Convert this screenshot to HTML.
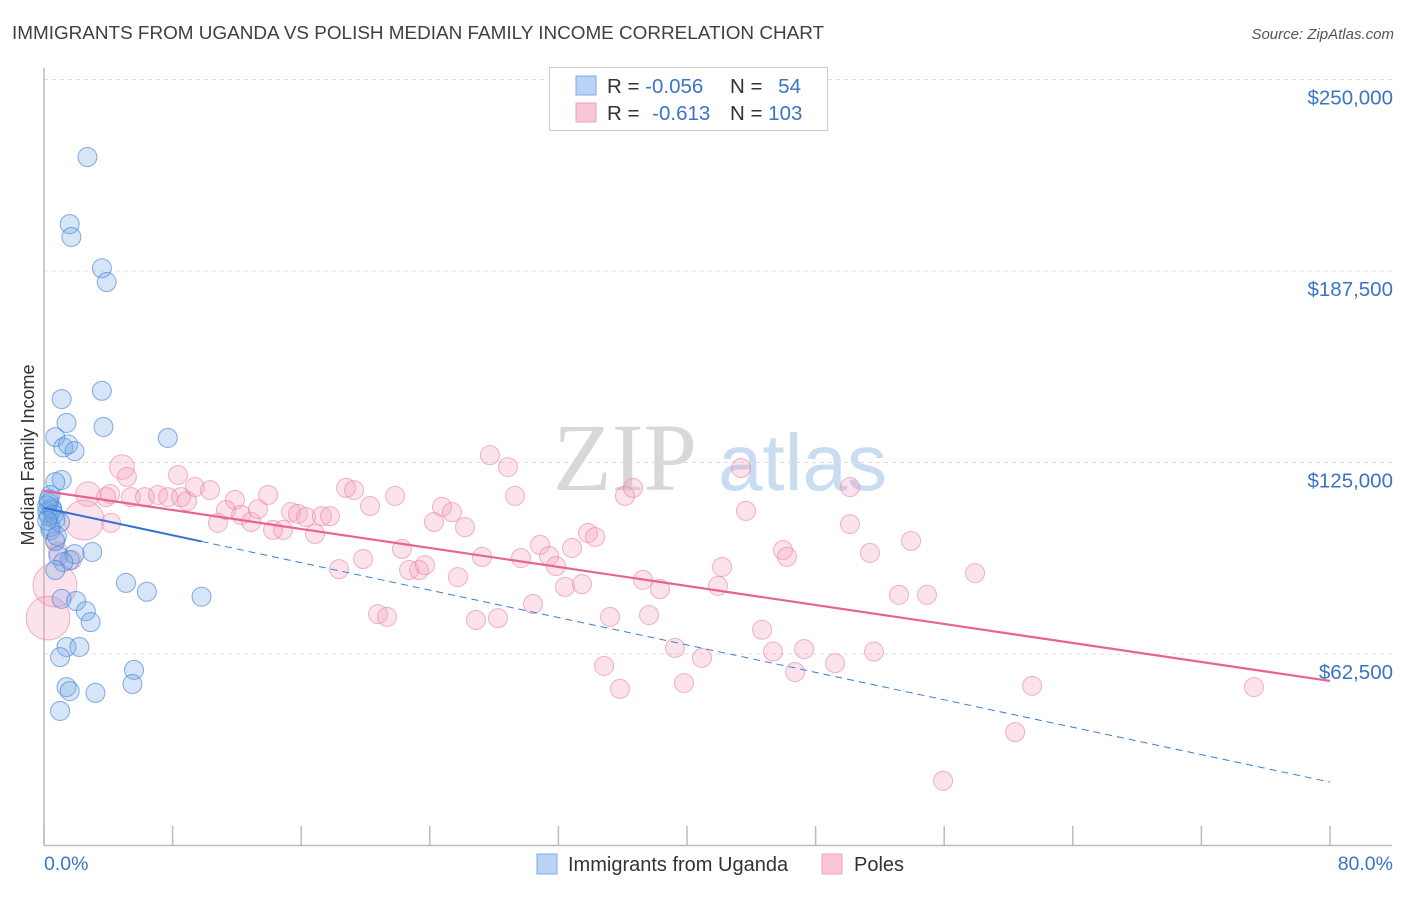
<!DOCTYPE html>
<html><head><meta charset="utf-8"><style>
body{margin:0;background:#fff;width:1406px;height:892px;overflow:hidden;font-family:"Liberation Sans",sans-serif;}
</style></head><body>
<svg id="chart" width="1406" height="892" xmlns="http://www.w3.org/2000/svg" font-family="Liberation Sans, sans-serif">
<text x="12" y="39" font-size="18.9" fill="#404040">IMMIGRANTS FROM UGANDA VS POLISH MEDIAN FAMILY INCOME CORRELATION CHART</text>
<text x="1394" y="39" font-size="15" fill="#555" font-style="italic" text-anchor="end">Source: ZipAtlas.com</text>
<g>
<text x="553" y="490" font-size="96" fill="#d8d8d8" font-family="Liberation Serif, serif">ZIP</text>
<text x="718" y="490" font-size="80" fill="#c8dcf2">atlas</text>
</g>
<g id="grid"></g>
<g id="axes"></g>
<g id="marks"></g>
<text transform="translate(34,455) rotate(-90)" font-size="18" fill="#333" text-anchor="middle">Median Family Income</text>
<text x="44" y="870" font-size="19.5" fill="#3a75c4">0.0%</text>
<text x="1393" y="870" font-size="19.5" fill="#3a75c4" text-anchor="end">80.0%</text>
<g>
<rect x="549.5" y="67.5" width="278" height="63" fill="#fff" stroke="#ccc"/>
<rect x="576" y="76" width="20" height="19" fill="#b8d3f5" stroke="#7ea8e0"/>
<rect x="576" y="103" width="20" height="19" fill="#f9c6d6" stroke="#eea2ba"/>
<text x="607" y="93" font-size="20.5" fill="#333">R = <tspan fill="#3a75c4">-0.056</tspan></text>
<text x="730" y="93" font-size="20.5" fill="#333">N = <tspan fill="#3a75c4" dx="10">54</tspan></text>
<text x="607" y="120" font-size="20.5" fill="#333">R = <tspan fill="#3a75c4" dx="7">-0.613</tspan></text>
<text x="730" y="120" font-size="20.5" fill="#333">N = <tspan fill="#3a75c4">103</tspan></text>
</g>
<g>
<rect x="537" y="854" width="20" height="20" fill="#b8d3f5" stroke="#7ea8e0"/>
<text x="568" y="871" font-size="20" fill="#333">Immigrants from Uganda</text>
<rect x="822" y="854" width="20" height="20" fill="#f9c6d6" stroke="#eea2ba"/>
<text x="854" y="871" font-size="20" fill="#333">Poles</text>
</g>
</svg>
<script>
const yTicks=[62.5,125,187.5,250];
const yTickLabels=["$62,500","$125,000","$187,500","$250,000"];
const xTicks=[0,8,16,24,32,40,48,56,64,72,80];
const ugandaX=[2.7,1.6,1.7,3.6,3.9,3.6,1.1,3.7,1.4,0.7,7.7,1.2,1.5,1.9,1.1,0.7,0.4,0.3,0.5,0.2,0.7,1.0,0.4,0.7,0.9,1.6,3.0,1.9,1.2,0.7,5.1,6.4,9.8,1.1,2.0,2.6,2.9,1.4,2.2,1.0,5.6,5.5,1.4,1.6,3.2,1.0,0.3,0.5,0.2,0.4,0.6,0.3,0.8,0.2];
const ugandaY=[224.7,202.8,198.6,188.4,183.9,148.4,145.7,136.6,137.9,133.3,133,129.9,130.9,128.7,119.3,118.6,114.4,111.8,110.2,108.9,106.3,105.5,102.9,99.3,94.5,93.1,95.8,95.1,92.5,89.9,85.7,82.8,81.2,80.5,79.8,76.5,72.9,64.8,64.8,61.5,57.3,52.7,51.7,50.4,49.8,43.9,107.5,109.5,111,104,108,113,101,106];
const polesX=[4.85,5.16,4.11,2.74,3.86,5.41,6.28,7.09,7.72,8.52,8.90,8.34,9.39,10.33,11.88,10.82,11.32,12.26,12.88,13.31,13.94,14.25,14.87,15.37,15.80,16.30,16.86,17.29,17.79,18.35,18.79,19.29,19.85,20.28,20.78,21.34,21.84,22.27,22.71,23.33,23.70,24.26,24.76,25.38,25.75,26.19,26.87,27.25,27.74,28.24,28.86,29.30,29.67,30.42,30.86,31.42,31.85,32.41,32.85,33.47,33.84,34.28,35.21,34.84,35.83,36.14,36.64,37.26,37.64,38.32,39.25,39.81,40.93,41.93,42.18,43.36,43.67,44.67,45.35,45.97,46.22,46.72,47.28,49.21,50.14,50.14,51.38,51.63,53.19,53.94,54.93,57.92,60.41,61.47,75.27,55.93,0.68,0.25,2.49,4.17,1.74,0.87,0.68];
const polesY=[123.5,120.3,114.7,114.7,113.7,113.7,113.7,114.4,113.7,113.7,112.4,120.9,117.0,116.0,112.8,105.3,109.5,107.9,105.6,109.8,114.4,103.0,103.0,108.8,108.2,107.2,101.7,107.5,107.5,90.2,116.7,116.0,93.5,110.8,75.5,74.6,114.1,96.8,89.9,89.9,91.5,105.6,110.5,108.8,87.6,103.9,73.6,94.2,127.4,74.2,123.5,114.1,93.8,78.8,98.1,94.5,91.2,84.4,97.1,85.3,102.0,100.7,74.6,58.6,51.1,114.1,116.7,86.7,75.2,83.7,64.5,53.0,61.2,84.7,90.9,123.2,109.2,70.4,63.3,96.4,94.2,56.6,64.1,59.5,117.0,104.9,95.5,63.3,81.8,99.4,81.8,88.9,37.0,52.1,51.7,21.1,85.0,74.2,106.2,105.3,93.2,95.8,99.7];
const polesWeight=[1.3,1,1,1.3,1,1,1,1,1,1,1,1,1,1,1,1,1,1,1,1,1,1,1,1,1,1,1,1,1,1,1,1,1,1,1,1,1,1,1,1,1,1,1,1,1,1,1,1,1,1,1,1,1,1,1,1,1,1,1,1,1,1,1,1,1,1,1,1,1,1,1,1,1,1,1,1,1,1,1,1,1,1,1,1,1,1,1,1,1,1,1,1,1,1,1,1,2.3,2.3,2.1,1,1,1,1];
const ugandaTrend=[110.2,20.7];
const ugandaSolidEnd=9.8;
const polesTrend=[115.7,53.7];

const X0=44,X1=1330,YB=845.5,YPX=191.5/62.5;
const sx=v=>X0+(v/80)*(X1-X0);
const sy=v=>YB-v*YPX;
const NS="http://www.w3.org/2000/svg";
function mk(tag,attrs,parent){const e=document.createElementNS(NS,tag);for(const k in attrs)e.setAttribute(k,attrs[k]);parent.appendChild(e);return e;}
const grid=document.getElementById('grid'),axes=document.getElementById('axes'),marks=document.getElementById('marks');
yTicks.forEach((t,i)=>{
  const l=mk('line',{x1:44,x2:1392,y1:sy(t),y2:sy(t),stroke:'#ddd','stroke-dasharray':'4,4'},grid);
  
  
  const tx=mk('text',{x:1393,y:sy(t)+25,'font-size':20.5,fill:'#3a75c4','text-anchor':'end'},grid);
  tx.textContent=yTickLabels[i];
  
  
});
const ya=mk('line',{x1:44,x2:44,y1:68,y2:845.5,stroke:'#bbb','stroke-width':1.5},axes);


const xa=mk('line',{x1:44,x2:1392,y1:845.5,y2:845.5,stroke:'#bbb','stroke-width':1.5},axes);


xTicks.forEach(t=>{
  const l=mk('line',{x1:sx(t),x2:sx(t),y1:826,y2:845,stroke:'#bbb','stroke-width':1.5},axes);
  
  
});
polesX.forEach((x,i)=>{
  const c=mk('circle',{cx:sx(x),cy:sy(polesY[i]),r:9.5*polesWeight[i],fill:'rgba(244,160,188,0.3)',stroke:'rgba(234,130,165,0.6)','stroke-width':1},marks);
  
  
});
ugandaX.forEach((x,i)=>{
  const c=mk('circle',{cx:sx(x),cy:sy(ugandaY[i]),r:9.5,fill:'rgba(120,170,232,0.3)',stroke:'rgba(70,130,210,0.65)','stroke-width':1},marks);
  
  
});
const ut=v=>ugandaTrend[0]+(ugandaTrend[1]-ugandaTrend[0])*v/80;
const ud=mk('line',{x1:sx(ugandaSolidEnd),y1:sy(ut(ugandaSolidEnd)),x2:sx(80),y2:sy(ugandaTrend[1]),stroke:'#3b7dd8','stroke-width':1,'stroke-dasharray':'7,5'},marks);


const us=mk('line',{x1:sx(0),y1:sy(ugandaTrend[0]),x2:sx(ugandaSolidEnd),y2:sy(ut(ugandaSolidEnd)),stroke:'#2f72d4','stroke-width':2},marks);


const pt=mk('line',{x1:sx(0),y1:sy(polesTrend[0]),x2:sx(80),y2:sy(polesTrend[1]),stroke:'#e8648e','stroke-width':2.2},marks);


</script>
</body></html>
